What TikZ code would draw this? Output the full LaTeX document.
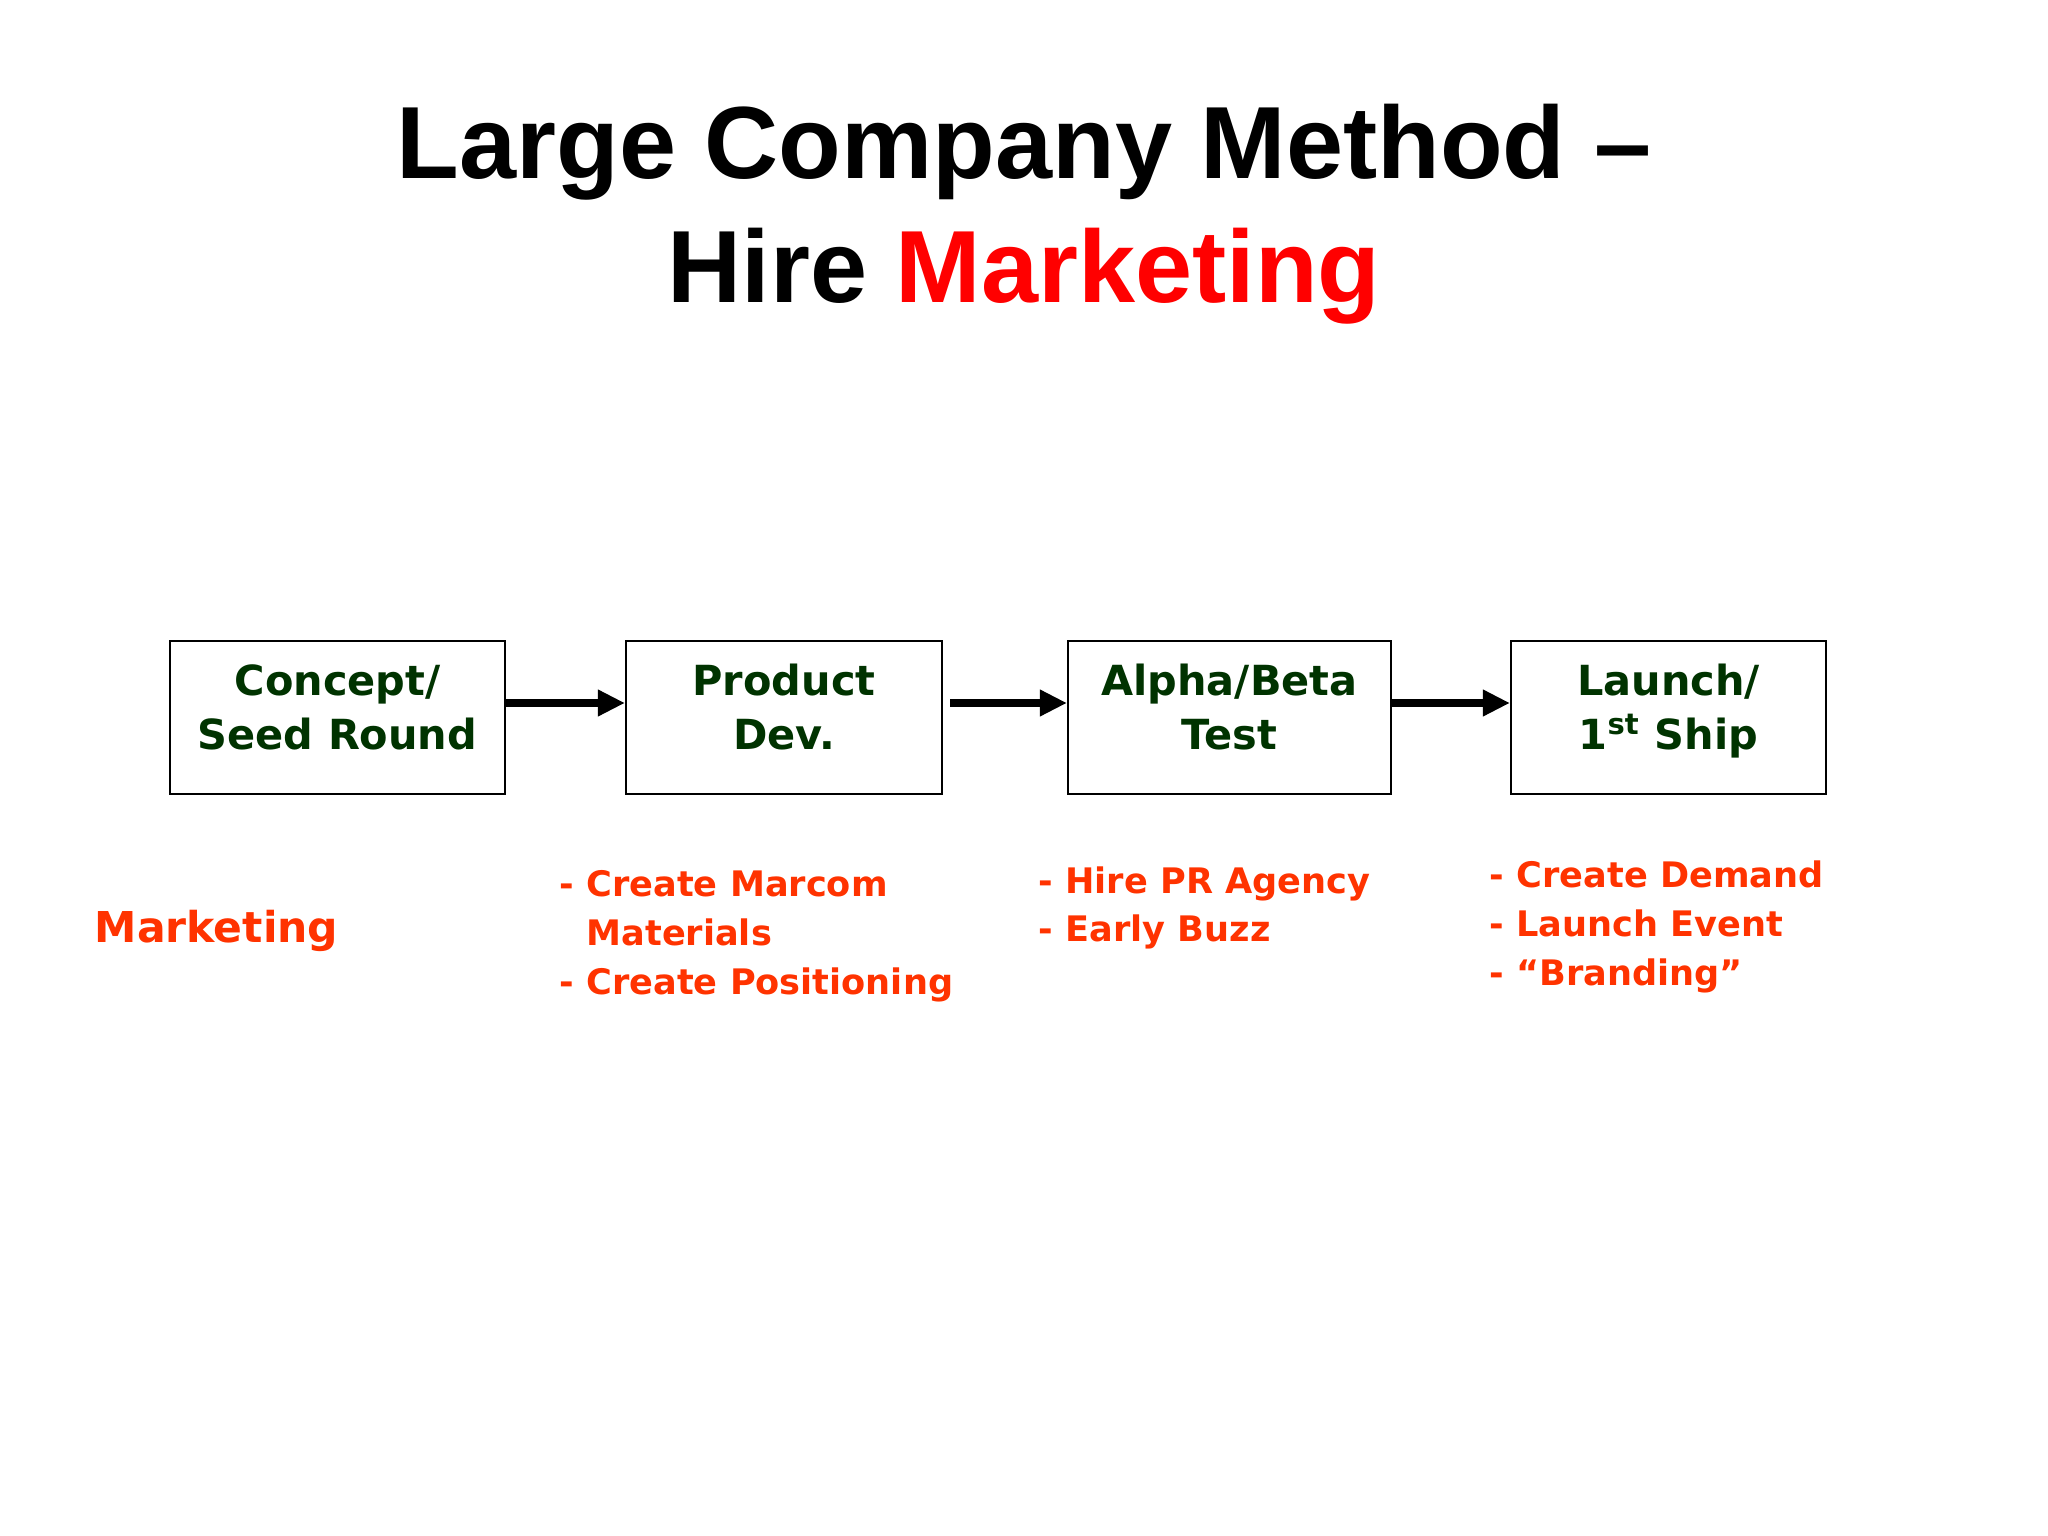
\documentclass[tikz,border=0pt]{standalone}
\usepackage{fontspec}
\setmainfont{DejaVu Sans}
\newfontfamily\titlefont{Liberation Sans}
\usetikzlibrary{arrows.meta}
\definecolor{stagegreen}{RGB}{0,51,0}
\definecolor{taskred}{RGB}{255,51,0}
\definecolor{titlered}{RGB}{255,0,0}

\tikzstyle{heading}=[font=\titlefont\fontsize{29.2}{35}\selectfont\bfseries,inner sep=0pt,anchor=base]
\tikzstyle{stage}=[shape=rectangle,draw=black,line width=0.6pt,minimum height=1.53cm,inner sep=0pt]
\tikzstyle{stagelabel}=[align=center,text=stagegreen,font=\fontsize{11.8}{15.6}\selectfont\bfseries,inner sep=0pt,anchor=base]
\tikzstyle{task}=[align=left,text=taskred,font=\fontsize{10}{13.8}\selectfont\bfseries,inner sep=0pt,anchor=base west]
\tikzstyle{flow}=[line width=2.2pt,-{Triangle[length=0.27cm,width=0.25cm]}]

\begin{document}
\begin{tikzpicture}
\useasboundingbox[fill=white] (0,0) rectangle (20.48,-15.36);
% title
\node[heading] (t1) at (10.24,-1.79) {Large Company Method –};
\node[heading] (t2) at (10.24,-3.03) {Hire \textcolor{titlered}{Marketing}};
% stages
\node[stage,minimum width=3.35cm] (s1) at (3.375,-7.175) {};
\node[stage,minimum width=3.16cm] (s2) at (7.84,-7.175) {};
\node[stage,minimum width=3.23cm] (s3) at (12.295,-7.175) {};
\node[stage,minimum width=3.15cm] (s4) at (16.685,-7.175) {};
\node[stagelabel] (l1) at ([yshift=-0.325cm]s1.center) {Concept/\\Seed Round};
\node[stagelabel] (l2) at ([yshift=-0.325cm]s2.center) {Product\\Dev.};
\node[stagelabel] (l3) at ([yshift=-0.325cm]s3.center) {Alpha/Beta\\Test};
\node[stagelabel] (l4) at ([yshift=-0.325cm]s4.center) {Launch/\\1\textsuperscript{st} Ship};
% arrows
\draw[flow] ([yshift=0.145cm]s1.east) -- ([yshift=0.145cm]s2.west);
\draw[flow,shorten <=0.07cm] ([yshift=0.145cm]s2.east) -- ([yshift=0.145cm]s3.west);
\draw[flow] ([yshift=0.145cm]s3.east) -- ([yshift=0.145cm]s4.west);
% marketing tasks
\node[task,font=\fontsize{12.1}{14.5}\selectfont\bfseries] (mk) at (0.94,-9.42) {Marketing};
\node[task] (m2) at (5.59,-9.94) {- Create Marcom\\\hphantom{- }Materials\\- Create Positioning};
\node[task] (m3) at (10.38,-9.415) {- Hire PR Agency\\- Early Buzz};
\node[task] (m4) at (14.89,-9.85) {- Create Demand\\- Launch Event\\- “Branding”};
\end{tikzpicture}
\end{document}
